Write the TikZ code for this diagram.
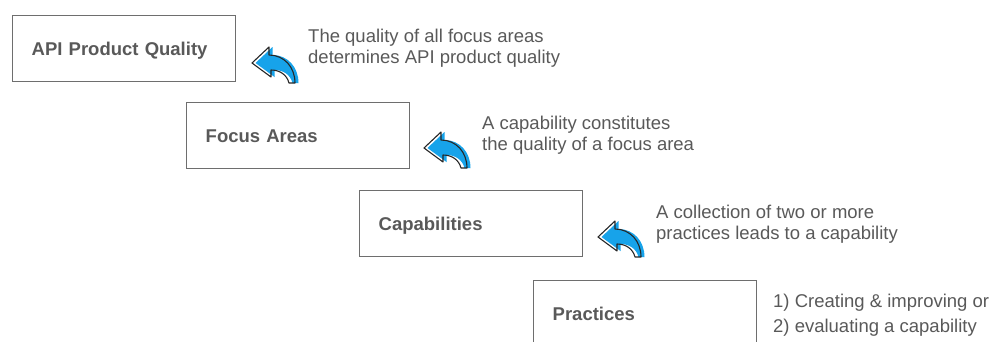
\documentclass[tikz,border=0pt]{standalone}
\usepackage{fontspec}
\setmainfont{Liberation Sans}
\definecolor{txtgray}{HTML}{595959}
\definecolor{boxgray}{HTML}{6E6E6E}
\definecolor{iconblue}{HTML}{17A3EA}
\definecolor{iconline}{HTML}{262626}
\begin{document}
\begin{tikzpicture}[x=1pt,y=-1pt,
  level/.style={draw=boxgray, line width=1.4pt, anchor=north west,
    minimum width=223pt, minimum height=66pt, text width=185pt,
    inner xsep=19pt, inner ysep=0pt, align=left,
    text height=15pt, text depth=2pt, text=txtgray,
    font=\fontsize{18.5}{21}\selectfont\bfseries},
  note/.style={anchor=north west, inner sep=0pt, align=left, text=txtgray,
    font=\fontsize{18.5}{21}\selectfont},
  replyarrow/.pic={
    % blue body, offset to the right of the outline
    \fill[iconblue, shift={(3.5,0)}]
      (0,0) -- (17,-16) -- (17,-8) .. controls (32,-8) and (43,4) .. (43,20)
      -- (37,20) .. controls (35,12) and (28,7) .. (19,7) -- (19,14) -- cycle;
    % dark outline on top
    \draw[iconline, line width=1.1pt, line join=round]
      (0,0) -- (17,-16) -- (17,-8) .. controls (32,-8) and (43,4) .. (43,20)
      -- (37,20) .. controls (35,12) and (28,7) .. (19,7) -- (19,14) -- cycle;
  }]
\useasboundingbox (0,0) rectangle (991,341);

% the four levels
\node[level] (quality)  at (12,15)  {API Product Quality};
\node[level] (areas)    at (186,102) {Focus Areas};
\node[level] (caps)     at (359,190) {Capabilities};
\node[level] (practice) at (533,280) {Practices};

% explanatory notes
\node[note] (n1) at (308,28.5) {The quality of all focus areas\\determines API product quality};
\node[note] (n2) at (482,115.5) {A capability constitutes\\the quality of a focus area};
\node[note] (n3) at (656,204.5) {A collection of two or more\\practices leads to a capability};
\node[note, font=\fontsize{18.5}{25}\selectfont] (n4) at (773,293.5)
  {1) Creating \& improving or\\2) evaluating a capability};

% curved arrows between levels
\pic at (252,63) {replyarrow};
\pic at (424,148) {replyarrow};
\pic at (598,237) {replyarrow};
\end{tikzpicture}
\end{document}
